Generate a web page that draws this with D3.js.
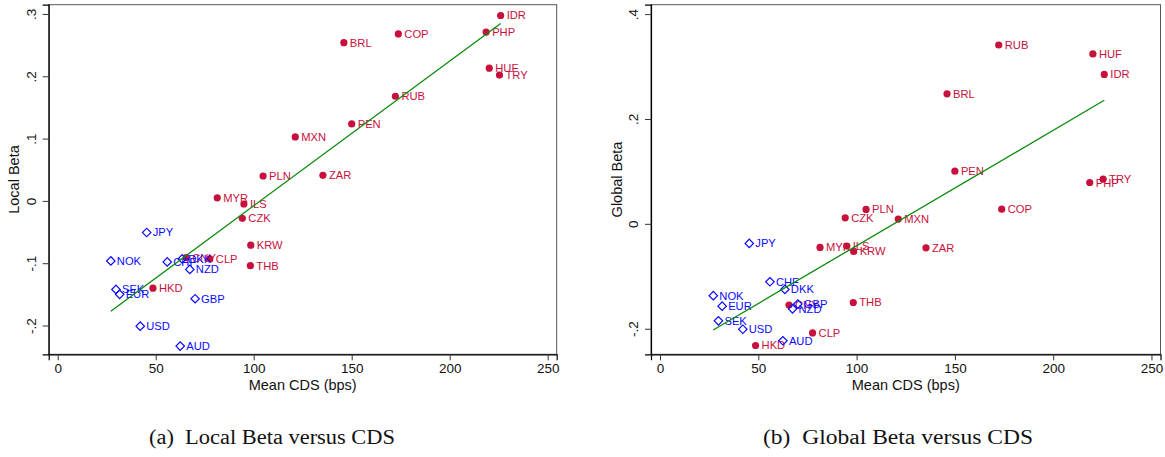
<!DOCTYPE html>
<html>
<head>
<meta charset="utf-8">
<script src="https://cdn.jsdelivr.net/npm/d3@7"></script>
<style>
  html, body { margin: 0; padding: 0; background: #fff; }
  svg { display: block; }
</style>
</head>
<body>
<svg id="chart" width="1165" height="457"></svg>
<script>
// ---------------- data ----------------
const currencies = ["IDR","COP","BRL","PHP","HUF","TRY","RUB","PEN","MXN","PLN","ZAR","MYR","ILS","CZK","KRW","THB","HKD","CNY","CLP",
                    "JPY","NOK","CHF","DKK","NZD","GBP","USD","AUD","SEK","EUR"];
const groups = ["EM","EM","EM","EM","EM","EM","EM","EM","EM","EM","EM","EM","EM","EM","EM","EM","EM","EM","EM",
                "DM","DM","DM","DM","DM","DM","DM","DM","DM","DM"];
const meanCDS = [226.0,173.8,146.0,218.6,220.2,225.4,172.3,150.0,121.2,104.8,135.3,81.4,95.0,94.2,98.5,98.3,48.6,65.6,77.6,
                 45.4,27.1,55.9,63.5,67.4,70.1,42.1,62.5,29.7,31.6];
const localBeta = [0.2976,0.268,0.254,0.271,0.213,0.202,0.168,0.1236,0.1027,0.040,0.041,0.005,-0.005,-0.028,-0.071,-0.104,-0.140,-0.091,-0.093,
                   -0.0507,-0.0963,-0.098,-0.0931,-0.110,-0.157,-0.201,-0.233,-0.142,-0.150];
const globalBeta = [0.285,0.028,0.248,0.0788,0.324,0.0851,0.341,0.1004,0.009,0.0274,-0.0457,-0.045,-0.0425,0.0114,-0.0527,-0.150,-0.232,-0.155,-0.208,
                    -0.0373,-0.137,-0.1105,-0.125,-0.162,-0.153,-0.201,-0.223,-0.185,-0.157];
// fitted lines (endpoints)
const fitLocalX = [27.1, 226.0];
const fitLocalY = [-0.177, 0.2847];
const fitGlobalX = [27.0, 226.0];
const fitGlobalY = [-0.2025, 0.2356];
// ticks
const xTicks = [0, 50, 100, 150, 200, 250];
const xTickLabels = ["0","50","100","150","200","250"];
const localTicks = [-0.2, -0.1, 0, 0.1, 0.2, 0.3];
const localTickLabels = ["-.2","-.1","0",".1",".2",".3"];
const globalTicks = [-0.2, 0, 0.2, 0.4];
const globalTickLabels = ["-.2","0",".2",".4"];
const xTitle = "Mean CDS (bps)";
const captions = ["(a)  Local Beta versus CDS", "(b)  Global Beta versus CDS"];

const rows = currencies.map((c, i) => ({ c, g: groups[i], x: meanCDS[i], lb: localBeta[i], gb: globalBeta[i] }));

// ---------------- drawing ----------------
const svg = d3.select("#chart");
svg.append("rect").attr("width", 1165).attr("height", 457).attr("fill", "#fff");

const RED = "#c8103c";
const BLUE = "#0a0aff";
const GREEN = "#0a8a0a";
const FONT = "'Liberation Sans', Arial, Helvetica, sans-serif";

function panel(opts) {
  const g = svg.append("g");
  const x = d3.scaleLinear().domain([-4.6, 254.6]).range([opts.left, opts.right]);
  const y = d3.scaleLinear().domain(opts.yDomain).range([opts.bottom, opts.top]);

  // frame
  g.append("rect")
    .attr("x", opts.left).attr("y", opts.top)
    .attr("width", opts.right - opts.left).attr("height", opts.bottom - opts.top)
    .attr("fill", "none").attr("stroke", "#555").attr("stroke-width", 1);

  // x axis
  const xa = g.append("g").attr("transform", `translate(0,${opts.bottom})`)
    .call(d3.axisBottom(x).tickValues(xTicks).tickFormat((d, i) => xTickLabels[i]).tickSize(6).tickPadding(3));
  xa.select(".domain").attr("stroke", "#000").attr("stroke-width", 1.2);
  xa.selectAll(".tick line").attr("stroke", "#333");
  xa.selectAll("text").attr("font-family", FONT).attr("font-size", 13.5).attr("fill", "#111");

  // y axis
  const ya = g.append("g").attr("transform", `translate(${opts.left},0)`)
    .call(d3.axisLeft(y).tickValues(opts.yTicks).tickFormat((d, i) => opts.yTickLabels[i]).tickSize(6).tickPadding(3));
  ya.select(".domain").attr("stroke", "#000").attr("stroke-width", 1.2);
  ya.selectAll(".tick line").attr("stroke", "#333");
  ya.selectAll("text")
    .attr("font-family", FONT).attr("font-size", 13.5).attr("fill", "#111")
    .attr("text-anchor", "middle").attr("dy", null)
    .attr("x", null)
    .attr("transform", `translate(${opts.yTickX - opts.left},0) rotate(-90)`)
    .attr("dominant-baseline", "central");

  // titles
  g.append("text")
    .attr("transform", `translate(${opts.yTitleX},${(opts.top + opts.bottom) / 2}) rotate(-90)`)
    .attr("text-anchor", "middle").attr("dominant-baseline", "central")
    .attr("font-family", FONT).attr("font-size", 14.5).attr("fill", "#111")
    .text(opts.yTitle);
  g.append("text")
    .attr("x", (opts.left + opts.right) / 2).attr("y", 390)
    .attr("text-anchor", "middle")
    .attr("font-family", FONT).attr("font-size", 14.5).attr("fill", "#111")
    .text(xTitle);

  // EM points
  const em = rows.filter(r => r.g === "EM");
  const dm = rows.filter(r => r.g === "DM");
  const emG = g.append("g");
  emG.selectAll("circle").data(em).join("circle")
    .attr("cx", d => x(d.x)).attr("cy", d => y(d[opts.key]))
    .attr("r", 3.6).attr("fill", RED);
  emG.selectAll("text").data(em).join("text")
    .attr("x", d => x(d.x) + 6).attr("y", d => y(d[opts.key]))
    .attr("dominant-baseline", "central")
    .attr("font-family", FONT).attr("font-size", 11.2).attr("fill", RED)
    .text(d => d.c);

  // DM points
  const dmG = g.append("g");
  const diamond = d3.symbol().type(d3.symbolSquare).size(36);
  dmG.selectAll("path").data(dm).join("path")
    .attr("d", diamond)
    .attr("transform", d => `translate(${x(d.x)},${y(d[opts.key])}) rotate(45)`)
    .attr("fill", "none").attr("stroke", BLUE).attr("stroke-width", 1.2);
  dmG.selectAll("text").data(dm).join("text")
    .attr("x", d => x(d.x) + 6).attr("y", d => y(d[opts.key]))
    .attr("dominant-baseline", "central")
    .attr("font-family", FONT).attr("font-size", 11.2).attr("fill", BLUE)
    .text(d => d.c);

  // fitted line
  const fit = opts.fitX.map((v, i) => [v, opts.fitY[i]]);
  g.append("path")
    .datum(fit)
    .attr("d", d3.line().x(d => x(d[0])).y(d => y(d[1])))
    .attr("fill", "none").attr("stroke", GREEN).attr("stroke-width", 1.3);

  // caption
  svg.append("text")
    .attr("x", opts.captionX).attr("y", 444)
    .attr("text-anchor", "middle")
    .attr("font-family", "'Liberation Serif', 'DejaVu Serif', serif")
    .attr("font-size", 20).attr("fill", "#111")
    .style("white-space", "pre")
    .attr("textLength", opts.captionW).attr("lengthAdjust", "spacingAndGlyphs")
    .text(opts.caption);
}

panel({
  left: 48.7, right: 556.7, top: 4.7, bottom: 354.3,
  yDomain: [-0.2462, 0.3149], yTicks: localTicks, yTickLabels: localTickLabels,
  yTickX: 31, yTitleX: 14, yTitle: "Local Beta", key: "lb",
  fitX: fitLocalX, fitY: fitLocalY,
  caption: captions[0], captionX: 272, captionW: 246
});
panel({
  left: 651, right: 1160.5, top: 4.7, bottom: 354.3,
  yDomain: [-0.2488, 0.4179], yTicks: globalTicks, yTickLabels: globalTickLabels,
  yTickX: 633, yTitleX: 617, yTitle: "Global Beta", key: "gb",
  fitX: fitGlobalX, fitY: fitGlobalY,
  caption: captions[1], captionX: 898, captionW: 270
});
</script>
</body>
</html>
